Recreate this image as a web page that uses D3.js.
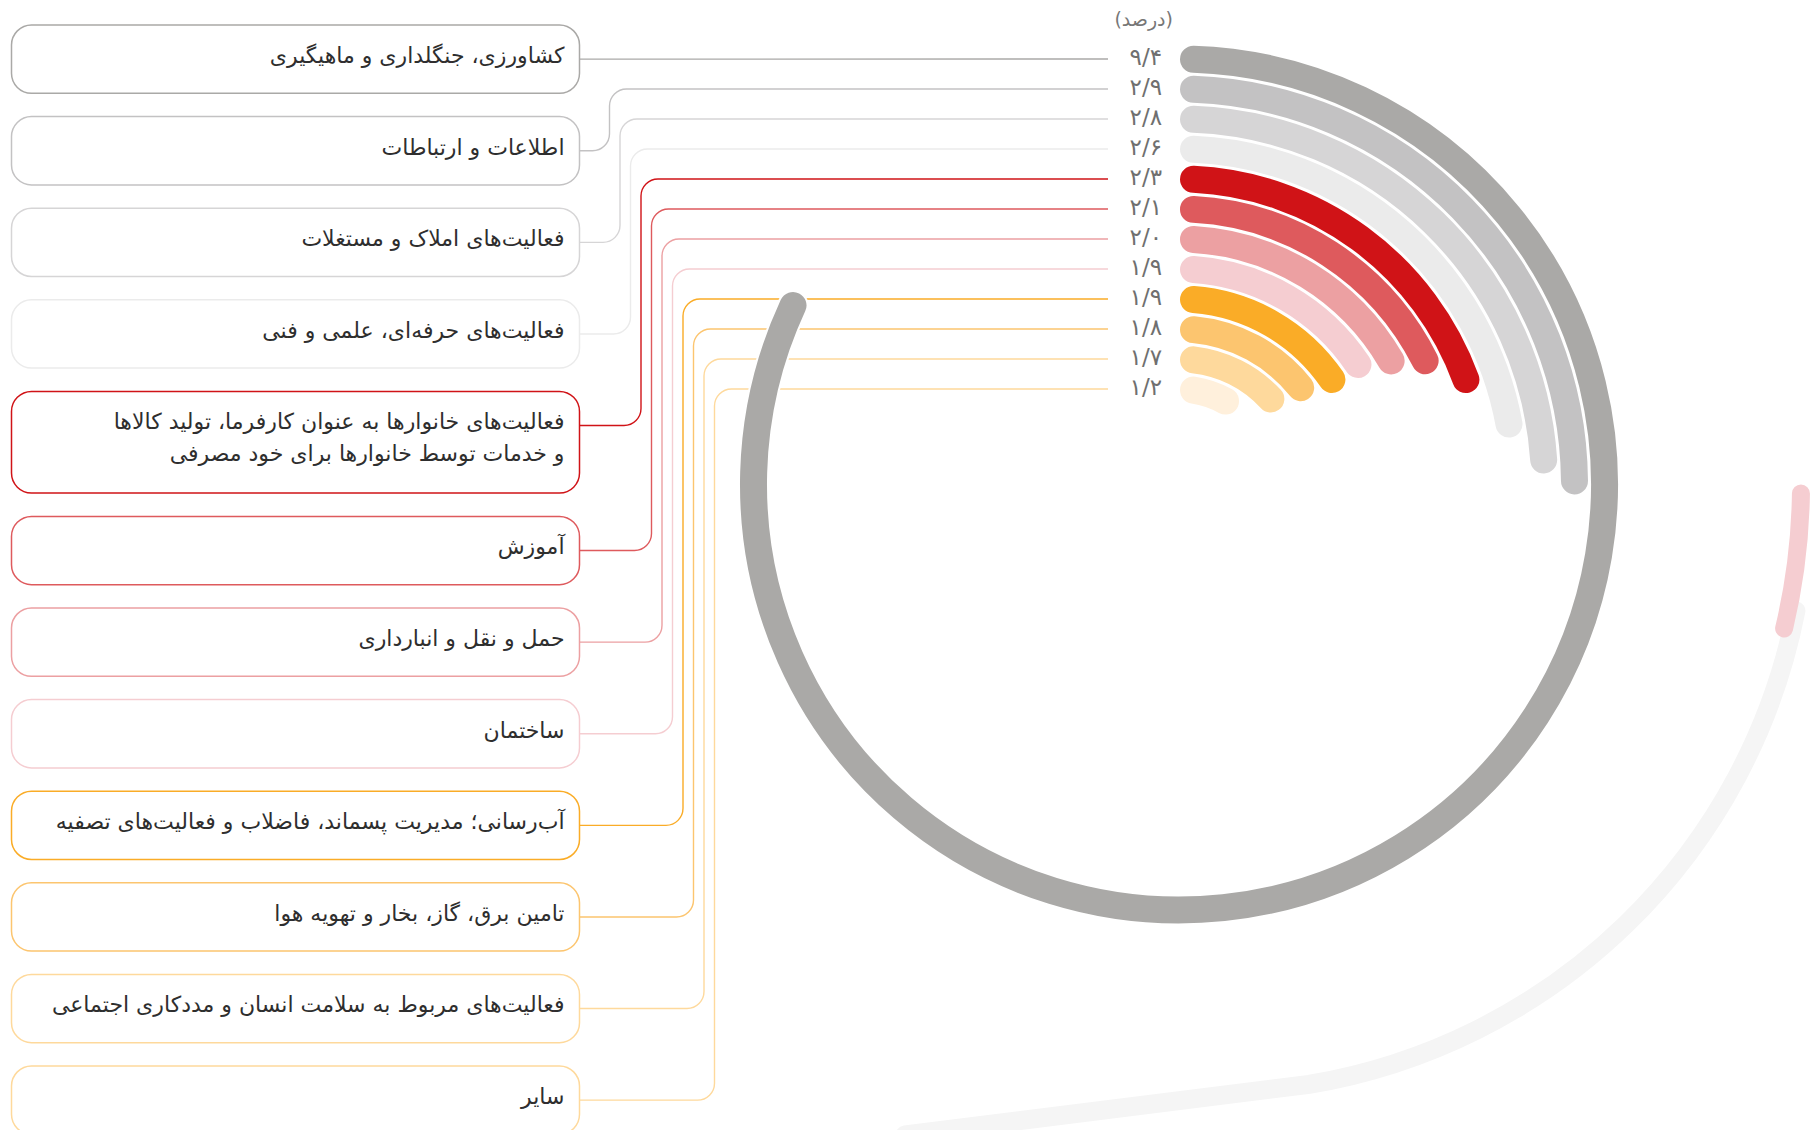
<!DOCTYPE html>
<html>
<head>
<meta charset="utf-8">
<script src="https://cdn.jsdelivr.net/npm/d3@7"></script>
<style>
  html, body { margin: 0; padding: 0; background: #fff; }
  svg { display: block; font-family: "DejaVu Sans", sans-serif; }
</style>
</head>
<body>
<script>
// sectors, top row first (line break marked with |)
const categories = [
  "کشاورزی، جنگلداری و ماهیگیری",
  "اطلاعات و ارتباطات",
  "فعالیت‌های املاک و مستغلات",
  "فعالیت‌های حرفه‌ای، علمی و فنی",
  "فعالیت‌های خانوارها به عنوان کارفرما، تولید کالاها|و خدمات توسط خانوارها برای خود مصرفی",
  "آموزش",
  "حمل و نقل و انبارداری",
  "ساختمان",
  "آب‌رسانی؛ مدیریت پسماند، فاضلاب و فعالیت‌های تصفیه",
  "تامین برق، گاز، بخار و تهویه هوا",
  "فعالیت‌های مربوط به سلامت انسان و مددکاری اجتماعی",
  "سایر"
];
const values = [9.4, 2.9, 2.8, 2.6, 2.3, 2.1, 2.0, 1.9, 1.9, 1.8, 1.7, 1.2];
const unitLabel = "(درصد)";

const colors = ["#aaa9a7", "#c3c2c3", "#d6d5d6", "#ebebeb", "#d01317", "#de5a5d",
                "#eca0a2", "#f5cdd1", "#faac27", "#fcc56f", "#fed99c", "#fff0dc"];
const lineColors = colors.map((c, i) => i === 11 ? "#fed99c" : c);

// leftovers of a half-finished transition in the original picture (value units)
const ghostGray = { start: 3.2, end: 5.4, color: "#f5f5f5" };
const ghostPink = { start: 2.85, end: 3.3, color: "#f5cdd1" };

const W = 1816, H = 1130;
const cx = 1179, cy = 484.5;

const toFa = s => String(s).replace(/\d/g, d => "۰۱۲۳۴۵۶۷۸۹"[d]);
const fmt = v => toFa(v.toFixed(1)).replace(".", "/");

const svg = d3.select("body").append("svg")
  .attr("width", W).attr("height", H);

// row positions of the rings / value labels
const yRow = d3.scalePoint().domain(d3.range(values.length)).range([59, 389]);
const angle = d3.scaleLinear().domain([0, 11.4]).range([0, 2 * Math.PI]);

// boxes on the left
const boxX = 11.5, boxW = 568, boxH = 68.3, twoLineH = 101.7, gap = 23.3;
let yCursor = 25;
const boxes = categories.map((c, i) => {
  const lines = c.split("|");
  const h = lines.length > 1 ? twoLineH : boxH;
  const b = { i, lines, y0: yCursor, h, yLink: yCursor + boxH / 2 };
  yCursor += h + gap;
  return b;
});

// connectors
const lineEnd = 1108, rc = 17;
const link = svg.append("g").attr("fill", "none").attr("stroke-width", 1.4);
boxes.forEach(b => {
  const yr = yRow(b.i);
  const p = d3.path();
  p.moveTo(boxX + boxW, b.yLink);
  if (b.i === 0) {
    p.lineTo(lineEnd, yr);
  } else {
    const vx = 599 + 10.5 * b.i;
    p.arcTo(vx, b.yLink, vx, yr, rc);
    p.arcTo(vx, yr, lineEnd, yr, rc);
    p.lineTo(lineEnd, yr);
  }
  link.append("path").attr("d", p.toString()).attr("stroke", lineColors[b.i]);
});

const boxG = svg.append("g");
boxes.forEach(b => {
  boxG.append("rect")
    .attr("x", boxX).attr("y", b.y0)
    .attr("width", boxW).attr("height", b.h)
    .attr("rx", 20).attr("ry", 20)
    .attr("fill", "#fff")
    .attr("stroke", lineColors[b.i]).attr("stroke-width", 1.5);
  b.lines.forEach((t, k) => {
    boxG.append("text")
      .attr("x", 564.5).attr("y", b.y0 + 32 + k * 32)
      .attr("direction", "rtl").attr("text-anchor", "start")
      .attr("dominant-baseline", "middle")
      .attr("font-size", 22).attr("fill", "#2e2e2e")
      .text(t);
  });
});

// ghost shapes: a stray track arc running off the bottom, and a stray pink piece
const gx = cx + 32, gy = cy + 12, gr = 596;
const a0 = angle(ghostGray.start) - Math.PI / 2, a1 = angle(ghostGray.end) - Math.PI / 2;
const gp = d3.path();
gp.arc(gx, gy, gr, a0, a1);
gp.lineTo(905, H + 5);
svg.append("path")
  .attr("d", gp.toString())
  .attr("fill", "none")
  .attr("stroke", ghostGray.color).attr("stroke-width", 19)
  .attr("stroke-linecap", "round");

const ghostArc = d3.arc().cornerRadius(9);
svg.append("path")
  .attr("transform", `translate(${cx},${cy})`)
  .attr("fill", ghostPink.color)
  .attr("d", ghostArc({ innerRadius: 613, outerRadius: 631,
    startAngle: angle(ghostPink.start), endAngle: angle(ghostPink.end) }));

// rings
const ring = d3.arc().cornerRadius(14.5);
const g = svg.append("g").attr("transform", `translate(${cx},${cy})`);
values.forEach((v, i) => {
  const r = cy - yRow(i);
  g.append("path")
    .attr("d", ring({ innerRadius: r - 14.5, outerRadius: r + 14.5, startAngle: 0, endAngle: angle(v) }))
    .attr("fill", colors[i])
    .attr("stroke", "#fff").attr("stroke-width", 2);
});

// value labels
const lab = svg.append("g").attr("font-size", 23).attr("fill", "#6f6f6f");
values.forEach((v, i) => {
  lab.append("text")
    .attr("x", 1162).attr("y", yRow(i) - 1)
    .attr("text-anchor", "end").attr("dominant-baseline", "middle")
    .text(fmt(v));
});
svg.append("text")
  .attr("x", 1173).attr("y", 20)
  .attr("direction", "rtl").attr("text-anchor", "start")
  .attr("dominant-baseline", "middle")
  .attr("font-size", 19).attr("fill", "#777")
  .text(unitLabel);
</script>
</body>
</html>
